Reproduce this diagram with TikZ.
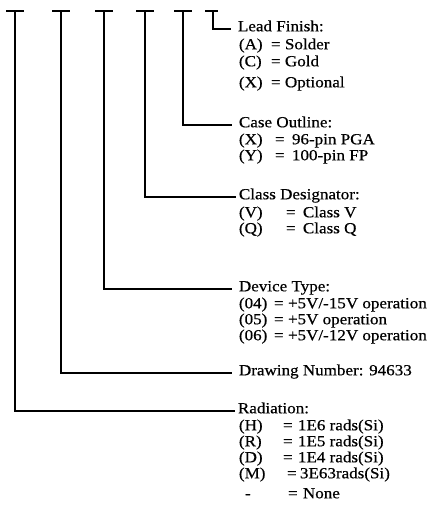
\documentclass[tikz,border=0pt]{standalone}
\usepackage{fontspec}
\setmainfont{Liberation Serif}[FakeStretch=1.1,FakeBold=0.5]
\begin{document}
\begin{tikzpicture}[x=1pt,y=-1pt,line width=1.9pt,
  lbl/.style={anchor=mid west,inner xsep=6pt,inner ysep=0pt,font=\fontsize{15.5}{16}\selectfont},
  tight/.style={lbl,inner xsep=2pt},
  txt/.style={anchor=mid west,inner sep=0pt,font=\fontsize{15.5}{16}\selectfont},
  tbar/.style={line width=2pt}]
\useasboundingbox (0,0) rectangle (444,513);
% tops of the stems
\coordinate (t1) at (15,11);
\coordinate (t2) at (61,11);
\coordinate (t3) at (104,11);
\coordinate (t4) at (145,11);
\coordinate (t5) at (183,11);
\coordinate (t6) at (213,11);
\foreach \t in {t1,t2,t3,t4,t5}{\draw[tbar] ([xshift=-9pt]\t) -- ([xshift=9pt]\t);}
\draw[tbar] ([xshift=-8pt]t6) -- ([xshift=5pt]t6);
% headings
\node[lbl] (lead) at (231,29) {Lead Finish:};
\node[lbl] (case) at (232,125) {Case Outline:};
\node[tight] (class) at (236,197) {Class Designator:};
\node[lbl] (dev) at (232,289) {Device Type:};
\node[lbl] (draw) at (232,373) {Drawing Number: 94633};
\node[tight] (rad) at (235,411) {Radiation:};
% connectors
\draw (t6) |- (lead.mid west);
\draw (t5) |- (case.mid west);
\draw (t4) |- (class.mid west);
\draw (t3) |- (dev.mid west);
\draw (t2) |- (draw.mid west);
\draw (t1) |- (rad.mid west);
% Lead finish
\node[txt] (la) at (238,47) {(A)};
\node[txt] (lae) at (270,47) {=};
\node[txt] (lav) at (284,47) {Solder};
\node[txt] (lc) at (238,64) {(C)};
\node[txt] (lce) at (270,64) {=};
\node[txt] (lcv) at (284,64) {Gold};
\node[txt] (lx) at (238,85) {(X)};
\node[txt] (lxe) at (270,85) {=};
\node[txt] (lxv) at (284,85) {Optional};
% Case outline
\node[txt] (cx) at (238,142) {(X)};
\node[txt] (cxe) at (274,142) {=};
\node[txt] (cxv) at (291,142) {96-pin PGA};
\node[txt] (cy) at (238,158) {(Y)};
\node[txt] (cye) at (274,158) {=};
\node[txt] (cyv) at (291,158) {100-pin FP};
% Class designator
\node[txt] (kv) at (238,215) {(V)};
\node[txt] (kve) at (285,215) {=};
\node[txt] (kvv) at (302,215) {Class V};
\node[txt] (kq) at (238,231) {(Q)};
\node[txt] (kqe) at (285,231) {=};
\node[txt] (kqv) at (302,231) {Class Q};
% Device type
\node[txt] (d4) at (238,306) {(04)};
\node[txt] (d4e) at (273,306) {=};
\node[txt] (d4v) at (287,306) {+5V/-15V operation};
\node[txt] (d5) at (238,322) {(05)};
\node[txt] (d5e) at (273,322) {=};
\node[txt] (d5v) at (287,322) {+5V operation};
\node[txt] (d6) at (238,338) {(06)};
\node[txt] (d6e) at (273,338) {=};
\node[txt] (d6v) at (287,338) {+5V/-12V operation};
% Radiation
\node[txt] (rh) at (238,428) {(H)};
\node[txt] (rhe) at (282,428) {=};
\node[txt] (rhv) at (297,428) {1E6 rads(Si)};
\node[txt] (rr) at (238,444) {(R)};
\node[txt] (rre) at (282,444) {=};
\node[txt] (rrv) at (297,444) {1E5 rads(Si)};
\node[txt] (rd) at (238,460) {(D)};
\node[txt] (rde) at (282,460) {=};
\node[txt] (rdv) at (297,460) {1E4 rads(Si)};
\node[txt] (rm) at (238,476) {(M)};
\node[txt] (rme) at (286,476) {=};
\node[txt] (rmv) at (299,476) {3E63rads(Si)};
\node[txt] (rn) at (244,496) {-};
\node[txt] (rne) at (287,496) {=};
\node[txt] (rnv) at (302,496) {None};
\end{tikzpicture}
\end{document}
